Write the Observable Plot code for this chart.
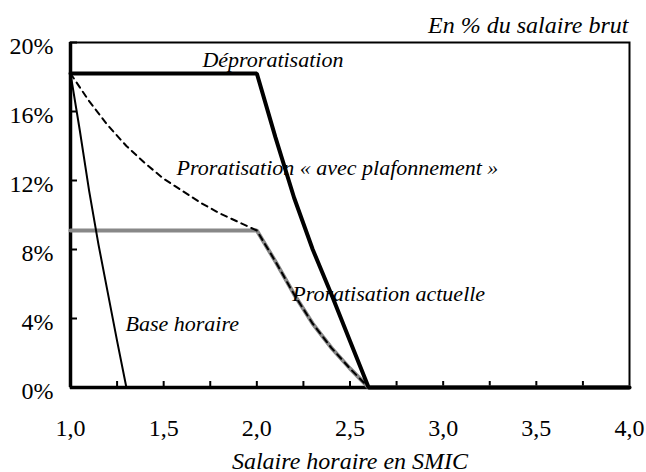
<!DOCTYPE html>
<html><head><meta charset="utf-8">
<script src="https://cdn.jsdelivr.net/npm/d3@7"></script>
<script src="https://cdn.jsdelivr.net/npm/@observablehq/plot@0.6"></script>
<style>
body{margin:0;background:#fff}
svg{display:block}
</style>
</head><body><div id="chart"></div>
<script>
// Déproratisation
const deproX = [1.0, 2.0, 2.1, 2.2, 2.3, 2.4, 2.5, 2.6, 4.0];
const deproY = [18.2, 18.2, 14.5, 11.0, 8.0, 5.4, 2.7, 0, 0];
// Proratisation « avec plafonnement »
const plafX = [1.0, 1.1, 1.2, 1.3, 1.4, 1.5, 1.6, 1.7, 1.8, 1.9, 2.0, 2.1, 2.2, 2.3, 2.4, 2.5, 2.6, 4.0];
const plafY = [18.2, 16.6, 15.2, 14.0, 13.0, 12.1, 11.4, 10.7, 10.1, 9.6, 9.1, 7.3, 5.4, 3.7, 2.3, 1.1, 0, 0];
// Proratisation actuelle
const actX = [1.0, 2.0, 2.1, 2.2, 2.3, 2.4, 2.5, 2.6, 4.0];
const actY = [9.1, 9.1, 7.3, 5.4, 3.7, 2.3, 1.1, 0, 0];
// Base horaire
const baseX = [1.0, 1.05, 1.1, 1.15, 1.2, 1.25, 1.3];
const baseY = [18.2, 14.9, 11.4, 8.3, 5.5, 2.7, 0];

const xTickLabels = [1.0, 1.5, 2.0, 2.5, 3.0, 3.5, 4.0];
const xMinorTicks = [1.25, 1.5, 1.75, 2.0, 2.25, 2.5, 2.75, 3.0, 3.25, 3.5, 3.75];
const yTicks = [0, 4, 8, 12, 16, 20];

const labelText = ["Déproratisation", "Proratisation « avec plafonnement »", "Proratisation actuelle", "Base horaire"];
const labelX = [1.708, 1.569, 2.19, 1.295];
const labelY = [19.0, 12.75, 5.45, 3.7];

const title = "En % du salaire brut";
const xTitle = "Salaire horaire en SMIC";

const toPts = (xs, ys) => xs.map((x, i) => ({x, y: ys[i]}));
const labels = labelText.map((t, i) => ({t, x: labelX[i], y: labelY[i]}));
const fmtX = d => d.toFixed(1).replace(".", ",");

const chart = Plot.plot({
  width: 646,
  height: 472,
  marginLeft: 70,
  marginRight: 17,
  marginTop: 42,
  marginBottom: 85,
  style: "font-family: 'Liberation Serif', 'Times New Roman', serif; background: #fff; color: #000; overflow: visible;",
  x: {domain: [1, 4]},
  y: {domain: [0, 20]},
  marks: [
    Plot.frame({stroke: "#000", strokeWidth: 2}),
    Plot.axisX(xMinorTicks, {tickSize: -6, tickFormat: () => "", strokeWidth: 2, label: null}),
    Plot.axisX(xTickLabels, {tickSize: 0, tickPadding: 31, tickFormat: fmtX, fontSize: 24, label: null}),
    Plot.axisY(yTicks, {tickSize: -7, tickFormat: () => "", strokeWidth: 2, label: null}),
    Plot.axisY(yTicks, {tickSize: 0, tickPadding: 17, dy: 4, tickFormat: d => d + "%", fontSize: 24, label: null}),
    Plot.ruleX([1], {stroke: "#000", strokeWidth: 3.5}),
    Plot.ruleY([0], {stroke: "#000", strokeWidth: 3.5}),
    Plot.line(toPts(actX, actY), {x: "x", y: "y", stroke: "#888", strokeWidth: 4, strokeLinejoin: "miter"}),
    Plot.line(toPts(deproX, deproY), {x: "x", y: "y", stroke: "#000", strokeWidth: 4, strokeLinejoin: "miter"}),
    Plot.line(toPts(baseX, baseY), {x: "x", y: "y", stroke: "#000", strokeWidth: 2}),
    Plot.line(toPts(plafX, plafY), {x: "x", y: "y", stroke: "#000", strokeWidth: 2, strokeDasharray: "6,5"}),
    Plot.text(labels, {x: "x", y: "y", text: "t", textAnchor: "start", lineAnchor: "middle", fontStyle: "italic", fontSize: 22}),
    Plot.text([title], {frameAnchor: "top-right", lineAnchor: "middle", dy: -17, dx: -1, textAnchor: "end", fontStyle: "italic", fontSize: 24}),
    Plot.text([xTitle], {frameAnchor: "bottom", lineAnchor: "middle", dy: 74, fontStyle: "italic", fontSize: 24})
  ]
});
document.getElementById("chart").append(chart);
</script>
</body></html>
